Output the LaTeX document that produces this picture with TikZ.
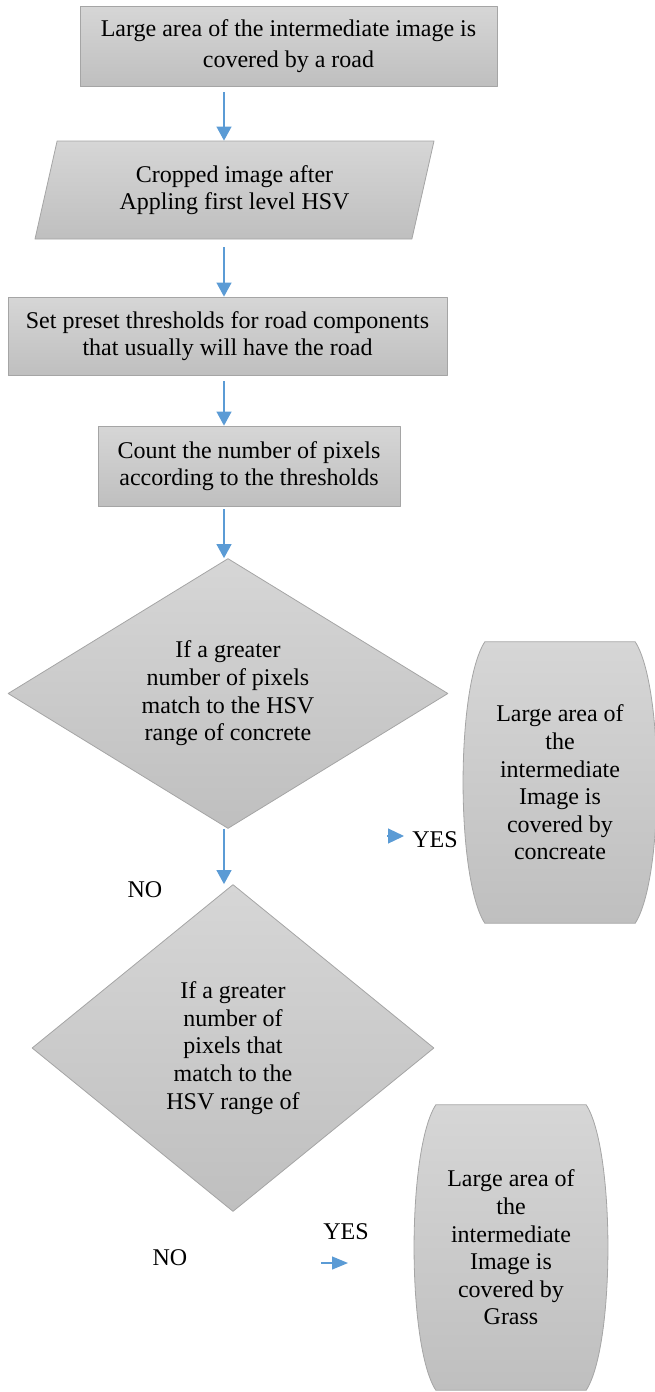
\documentclass[tikz,border=0pt]{standalone}
\usepackage{fontspec}
\setmainfont{Liberation Serif}
\usetikzlibrary{arrows.meta,shapes.geometric,backgrounds}

\definecolor{shadetop}{RGB}{214,214,214}
\definecolor{shadebot}{RGB}{191,191,191}
\definecolor{edgegray}{RGB}{165,165,165}
\definecolor{flowblue}{RGB}{91,155,213}

\tikzset{
  boxfont/.style={font=\fontsize{24}{27.6}\selectfont},
  proc/.style={rectangle, draw=edgegray, line width=0.8pt, top color=shadetop, bottom color=shadebot, align=center, inner sep=0pt, boxfont},
  iobox/.style={proc, trapezium, trapezium left angle=66, trapezium right angle=114, trapezium stretches body},
  decide/.style={proc, diamond},
  barrel/.style={align=center, inner sep=0pt, minimum width=194pt, boxfont},
  lbl/.style={inner sep=0pt, boxfont},
  flow/.style={draw=flowblue, line width=1.2pt, -{Triangle[length=14pt,width=15pt]}}
}

\begin{document}
\begin{tikzpicture}[x=1pt,y=-1pt,join=round] % road / concrete / grass flow
        \useasboundingbox (0,0) rectangle (655,1392);
        \coordinate (spine) at (224,0);
        \node[proc, minimum width=417pt, minimum height=80pt, font=\fontsize{24}{31}\selectfont] (road) at (288.5,46) {Large area of the intermediate image is\\covered by a road};
        \node[iobox, minimum width=399pt, minimum height=98pt] (crop) at (234.5,190) {Cropped image after\\Appling first level HSV};
        \node[proc, minimum width=439pt, minimum height=78pt] (thresh) at (227.5,336) {Set preset thresholds for road components\\that usually will have the road};
        \node[proc, minimum width=302pt, minimum height=80pt] (count) at (249,466) {Count the number of pixels\\according to the thresholds};
        \node[decide, minimum width=440pt, minimum height=270pt, aspect=1.63] (concrete) at (228,693.5) {If a greater\\number of pixels\\match to the HSV\\range of concrete};
        \node[decide, minimum width=402pt, minimum height=327pt, aspect=1.23] (grass) at (233,1048) {If a greater\\number of\\pixels that\\match to the\\HSV range of};
        \node[barrel, minimum height=281pt] (isconc) at (560,782.5) {Large area of\\the\\intermediate\\Image is\\covered by\\concreate};
        \node[barrel, minimum height=285pt] (isgrass) at (511,1247.5) {Large area of\\the\\intermediate\\Image is\\covered by\\Grass};
        \begin{scope}[on background layer]
                \foreach \b in {isconc,isgrass}
                        \path[draw=edgegray, line width=0.8pt, top color=shadetop, bottom color=shadebot]
                                ([xshift=22pt]\b.north west) -- ([xshift=-22pt]\b.north east)
                                .. controls ([xshift=7pt,yshift=-45pt]\b.north east) and ([xshift=7pt,yshift=45pt]\b.south east) .. ([xshift=-22pt]\b.south east)
                                -- ([xshift=22pt]\b.south west)
                                .. controls ([xshift=-7pt,yshift=45pt]\b.south west) and ([xshift=-7pt,yshift=-45pt]\b.north west) .. cycle;
        \end{scope}
        \node[lbl] (no1) at (145,890) {NO};
        \node[lbl] (yes1) at (435,840) {YES};
        \node[lbl] (yes2) at (346,1232) {YES};
        \node[lbl] (no2) at (170,1258) {NO};
        \draw[flow] ([yshift=-6pt]road.south -| spine) -- (crop.north -| spine);
        \draw[flow] ([yshift=-8pt]crop.south -| spine) -- (thresh.north -| spine);
        \draw[flow] ([yshift=-6pt]thresh.south -| spine) -- (count.north -| spine);
        \draw[flow] ([yshift=-3pt]count.south -| spine) -- (concrete.north -| spine);
        \draw[flow] (concrete.south -| spine) -- (grass.north -| spine);
        \coordinate (y1a) at (387,836);
        \coordinate (y1b) at (404,836);
        \draw[flow, -{Triangle[length=16pt,width=15pt]}] (y1a) -- (y1b);
        \coordinate (y2a) at (321,1263);
        \coordinate (y2b) at (348,1263);
        \draw[flow, -{Triangle[length=16pt,width=13pt]}] (y2a) -- (y2b);
\end{tikzpicture}
\end{document}
